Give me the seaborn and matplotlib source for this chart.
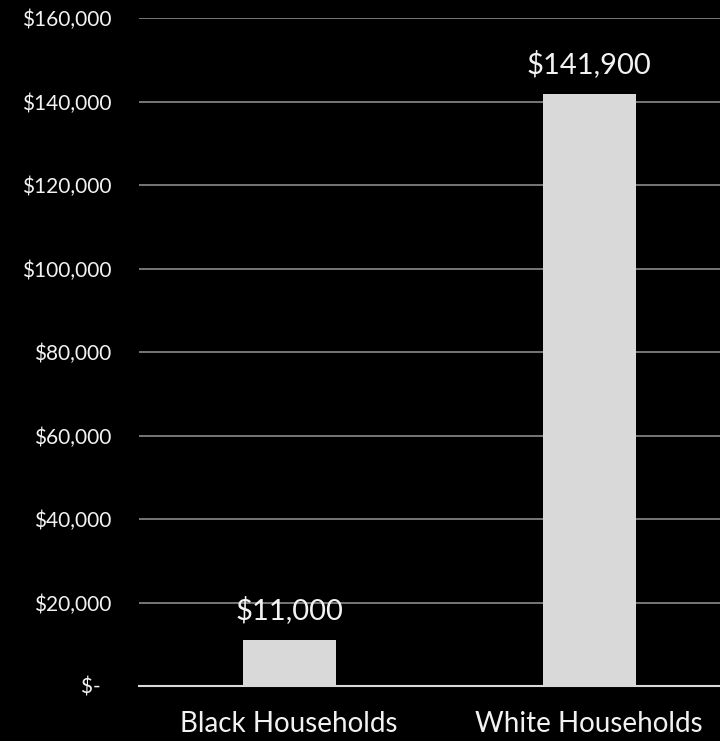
import matplotlib
matplotlib.use("Agg")
import matplotlib.pyplot as plt
import seaborn as sns
import pandas as pd

categories = ["Black Households", "White Households"]
values = [11000, 141900]
value_labels = ["$11,000", "$141,900"]
yticks = [0, 20000, 40000, 60000, 80000, 100000, 120000, 140000, 160000]
ytick_labels = ["$-  ", "$20,000", "$40,000", "$60,000", "$80,000",
                "$100,000", "$120,000", "$140,000", "$160,000"]

sns.set_theme(style="dark")
plt.rcParams['font.family'] = ['Lato', 'DejaVu Sans']

fig = plt.figure(figsize=(7.2, 7.41), dpi=100, facecolor="black")
W, H = 720, 741
ax = fig.add_axes([139 / W, 55 / H, 600 / W, 668 / H])
ax.set_facecolor("black")

df = pd.DataFrame({"cat": categories, "val": values})
sns.barplot(data=df, x="cat", y="val", color="#d9d9d9", width=0.31,
            saturation=1, ax=ax, zorder=3, linewidth=0, edgecolor="none")

ax.set_xlim(-0.5, 1.5)
ax.set_ylim(0, 160000)
ax.set_yticks(yticks)
ax.set_yticklabels(ytick_labels)
ax.yaxis.grid(True, color="#808080", linewidth=1.3, zorder=0)
ax.xaxis.grid(False)
for s in ["left", "right", "top"]:
    ax.spines[s].set_visible(False)
ax.spines["bottom"].set_color("#d9d9d9")
ax.spines["bottom"].set_linewidth(1.5)
ax.spines["bottom"].set_zorder(4)

ax.tick_params(axis="y", length=0, pad=20, labelsize=15, labelcolor="#f2f2f2")
ax.tick_params(axis="x", length=0, pad=18, labelsize=20, labelcolor="#f2f2f2")
ax.set_xlabel("")
ax.set_ylabel("")

for i, (v, lab) in enumerate(zip(values, value_labels)):
    ax.annotate(lab, (i, v), xytext=(0, 15), textcoords="offset points",
                ha="center", va="baseline", fontsize=21, color="#f2f2f2")

fig.savefig("out.png", dpi=100, facecolor="black")
